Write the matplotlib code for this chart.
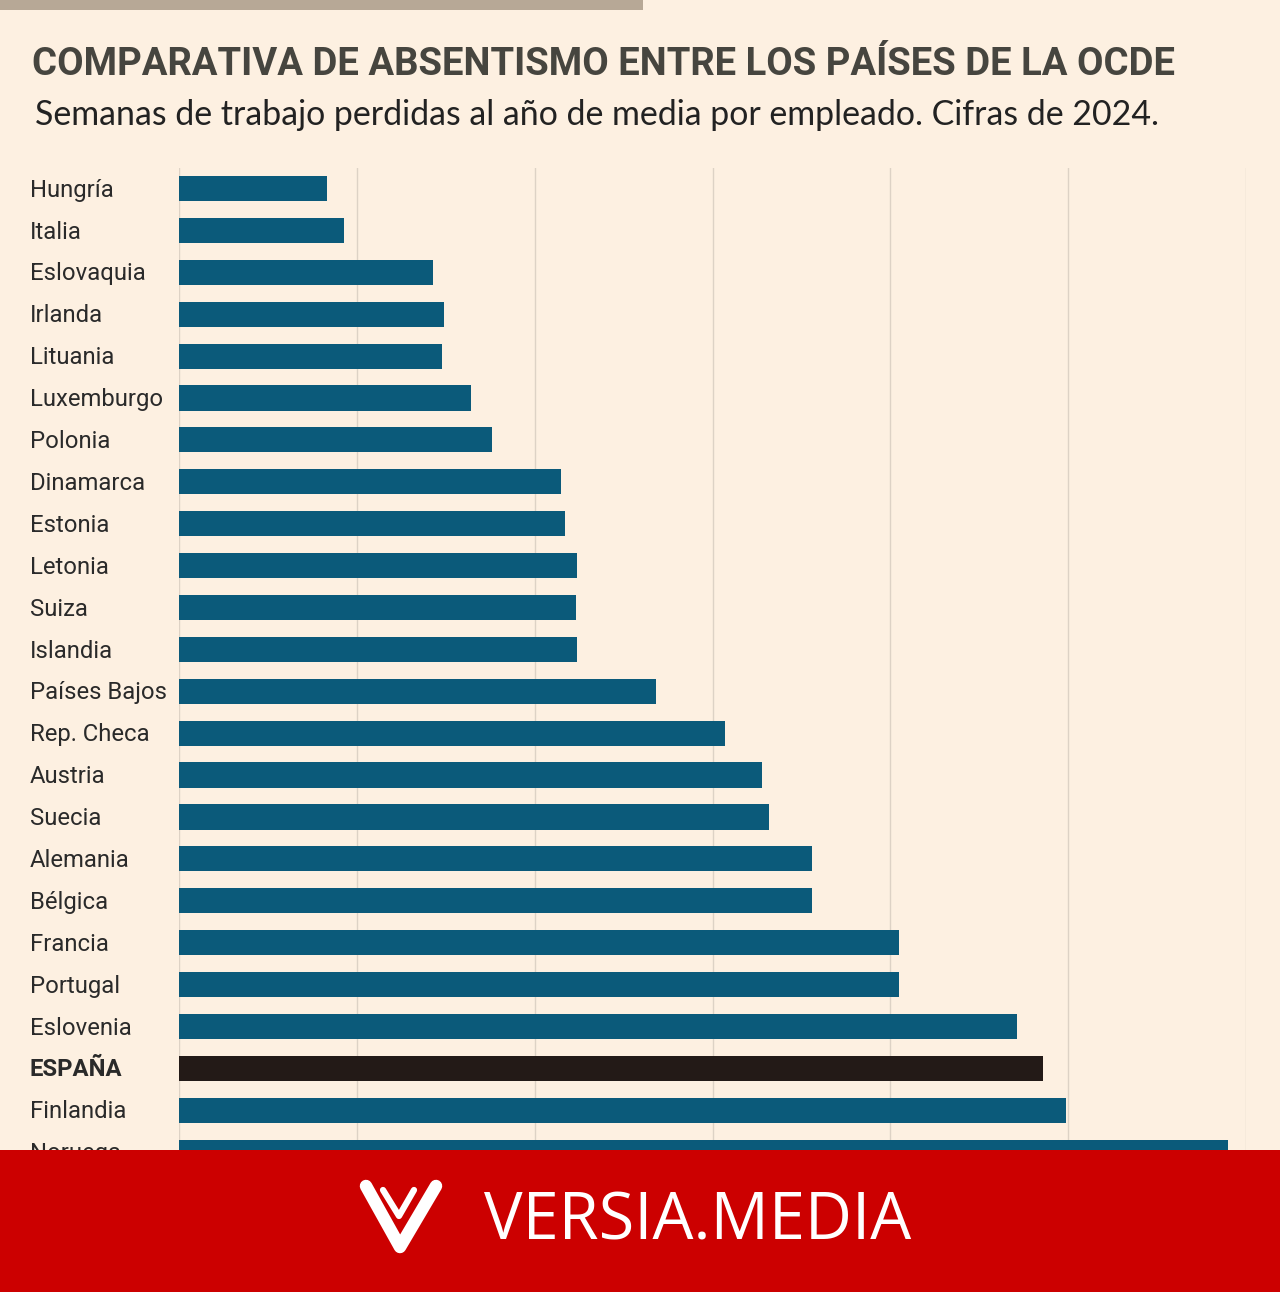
import matplotlib.pyplot as plt
from matplotlib.lines import Line2D
from matplotlib.patches import Rectangle

W, H = 1280, 1292

countries = ["Hungría", "Italia", "Eslovaquia", "Irlanda", "Lituania", "Luxemburgo",
             "Polonia", "Dinamarca", "Estonia", "Letonia", "Suiza", "Islandia",
             "Países Bajos", "Rep. Checa", "Austria", "Suecia", "Alemania", "Bélgica",
             "Francia", "Portugal", "Eslovenia", "ESPAÑA", "Finlandia", "Noruega"]
weeks = [0.83, 0.93, 1.43, 1.49, 1.48, 1.64, 1.76, 2.15, 2.17, 2.24, 2.23, 2.24,
         2.68, 3.07, 3.28, 3.32, 3.56, 3.56, 4.05, 4.05, 4.71, 4.86, 4.99, 5.90]
highlight = "ESPAÑA"

bg = "#fdf0e1"
blue = "#0b5a7a"
dark = "#231a17"


def fx(px):
    return px / W


def fy(py):
    return 1 - py / H


def fit_width(txt, target_px):
    # shrink/grow the font so the text spans target_px
    r = fig.canvas.get_renderer()
    w = txt.get_window_extent(renderer=r).width
    txt.set_fontsize(txt.get_fontsize() * target_px / w)


fig = plt.figure(figsize=(W / 100, H / 100), dpi=100, facecolor=bg)

# tan strip at the top
fig.patches.append(Rectangle((0, fy(10)), fx(643), 10 / H, transform=fig.transFigure,
                             facecolor="#b7a896", edgecolor="none"))

title = fig.text(fx(32), fy(75), "COMPARATIVA DE ABSENTISMO ENTRE LOS PAÍSES DE LA OCDE",
                 fontsize=34, fontweight="bold", color="#46453f",
                 family="Roboto", va="baseline")
fit_width(title, 1146)
sub = fig.text(fx(35), fy(125), "Semanas de trabajo perdidas al año de media por empleado. Cifras de 2024.",
               fontsize=24, color="#222222", family="Lato", va="baseline")
fit_width(sub, 1125)

# chart area
ax = fig.add_axes([fx(179), fy(1150), fx(1246) - fx(179), (1150 - 168) / H])
ax.set_facecolor(bg)
ypos = list(range(len(countries)))
colors = [dark if c == highlight else blue for c in countries]
ax.barh(ypos, weeks, height=0.6, color=colors, zorder=2)
ax.set_xlim(0, 6)
ax.set_ylim(22.95, -0.49)
ax.set_xticks(range(0, 7))
ax.grid(axis="x", color="#ddd2c5", lw=1, zorder=0)
ax.tick_params(length=0, labelbottom=False, labelleft=False)
for s in ax.spines.values():
    s.set_visible(False)

ref = fig.text(0, 0, "Luxemburgo", fontsize=20, family="Roboto")
fit_width(ref, 133)
lab_size = ref.get_fontsize()
ref.remove()

for i, c in enumerate(countries):
    ax.text(-149 / 177.8, i + 0.04, c, fontsize=lab_size, color="#2a2a2a", va="center", ha="left",
            family="Roboto", fontweight="bold" if c == highlight else "normal", clip_on=False)

# red banner
fig.patches.append(Rectangle((0, 0), 1, (H - 1150) / H, transform=fig.transFigure,
                             facecolor="#cc0000", edgecolor="none", zorder=5))
fig.lines.append(Line2D([fx(366), fx(400), fx(436)], [fy(1186), fy(1247), fy(1186)],
                        transform=fig.transFigure, color="white", lw=9,
                        solid_capstyle="round", solid_joinstyle="round", zorder=6))
fig.lines.append(Line2D([fx(383), fx(399), fx(414)], [fy(1190), fy(1216), fy(1190)],
                        transform=fig.transFigure, color="white", lw=4.5,
                        solid_capstyle="round", solid_joinstyle="round", zorder=6))
brand = fig.text(fx(484), fy(1240), "VERSIA.MEDIA", fontsize=46, color="white",
                 family="Open Sans", ha="left", va="baseline", zorder=7)
fit_width(brand, 426)

fig.savefig("out.png", dpi=100, facecolor=bg)
